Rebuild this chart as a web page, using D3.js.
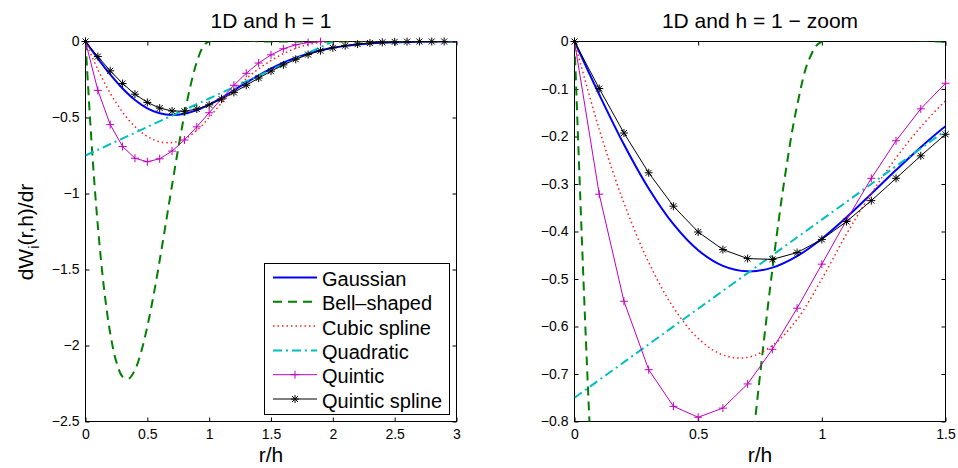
<!DOCTYPE html>
<html>
<head>
<meta charset="utf-8">
<title>1D kernel derivatives</title>
<script src="https://cdn.jsdelivr.net/npm/d3@7"></script>
<style>
  body { margin: 0; background: #fff; }
  svg { display: block; font-family: "Liberation Sans", Arial, sans-serif; }
  .axis text { font-size: 14px; fill: #000; }
  .axis line { stroke: #000; }
  .axis path { display: none; }
</style>
</head>
<body>
<script>
// dW/dr, as [r/h, value] pairs
var gaussian = [[0,0],[0.1,-0.1117],[0.2,-0.2168],[0.3,-0.3094],[0.4,-0.3846],[0.5,-0.4394],
  [0.6,-0.4724],[0.7,-0.4839],[0.8,-0.4760],[0.9,-0.4518],[1.0,-0.4151],[1.1,-0.3701],
  [1.2,-0.3208],[1.3,-0.2707],[1.4,-0.2225],[1.5,-0.1784],[1.6,-0.1396],[1.7,-0.1066],
  [1.8,-0.0795],[1.9,-0.0580],[2.0,-0.0413],[2.1,-0.0288],[2.2,-0.0196],[2.3,-0.0131],
  [2.4,-0.0085],[2.5,-0.0054],[2.6,-0.0034],[2.7,-0.0021],[2.8,-0.0012],[2.9,-0.0007],[3.0,-0.0004]];
var bellShaped = [[0,0],[0.05,-0.677],[0.1,-1.215],[0.15,-1.626],[0.2,-1.92],[0.25,-2.109],
  [0.3,-2.205],[0.35,-2.218],[0.4,-2.16],[0.45,-2.042],[0.5,-1.875],[0.55,-1.671],[0.6,-1.44],
  [0.65,-1.194],[0.7,-0.945],[0.75,-0.703],[0.8,-0.48],[0.85,-0.287],[0.9,-0.135],[0.95,-0.036],
  [1.0,0],[1.5,0],[2.0,0],[2.5,0],[3.0,0]];
var cubicSpline = [[0,0],[0.1,-0.185],[0.2,-0.34],[0.3,-0.465],[0.4,-0.56],[0.5,-0.625],
  [0.6,-0.66],[0.7,-0.665],[0.8,-0.64],[0.9,-0.585],[1.0,-0.5],[1.1,-0.405],[1.2,-0.32],
  [1.3,-0.245],[1.4,-0.18],[1.5,-0.125],[1.6,-0.08],[1.7,-0.045],[1.8,-0.02],[1.9,-0.005],
  [2.0,0],[3.0,0]];
var quadratic = [[0,-0.75],[0.5,-0.5625],[1.0,-0.375],[1.5,-0.1875],[2.0,0]];
var quintic = [[0,0],[0.1,-0.3215],[0.2,-0.5468],[0.3,-0.6909],[0.4,-0.768],[0.5,-0.791],
  [0.6,-0.7718],[0.7,-0.7209],[0.8,-0.648],[0.9,-0.5615],[1.0,-0.4688],[1.1,-0.3759],
  [1.2,-0.288],[1.3,-0.209],[1.4,-0.1418],[1.5,-0.0879],[1.6,-0.048],[1.7,-0.0215],
  [1.8,-0.0068],[1.9,-0.0009]];
var quinticSpline = [[0,0],[0.1,-0.099],[0.2,-0.1927],[0.3,-0.2764],[0.4,-0.3467],[0.5,-0.401],
  [0.6,-0.438],[0.7,-0.457],[0.8,-0.4587],[0.9,-0.4444],[1.0,-0.4167],[1.1,-0.379],
  [1.2,-0.335],[1.3,-0.288],[1.4,-0.2407],[1.5,-0.1953],[1.6,-0.1537],[1.7,-0.117],
  [1.8,-0.086],[1.9,-0.061],[2.0,-0.0417],[2.1,-0.0273],[2.2,-0.0171],[2.3,-0.01],
  [2.4,-0.0054],[2.5,-0.0026],[2.6,-0.0011],[2.7,-0.0003],[2.8,-0.0001],[2.9,0]];

var legendNames = ["Gaussian", "Bell\u2013shaped", "Cubic spline", "Quadratic", "Quintic", "Quintic spline"];

var leftXTicks = [0, 0.5, 1, 1.5, 2, 2.5, 3];
var leftYTicks = [0, -0.5, -1, -1.5, -2, -2.5];
var rightXTicks = [0, 0.5, 1, 1.5];
var rightYTicks = [0, -0.1, -0.2, -0.3, -0.4, -0.5, -0.6, -0.7, -0.8];

// styles, one per series
var series = [
  {data: gaussian, color: "#0000ff", width: 2, dash: null, curve: d3.curveCatmullRom, marker: null},
  {data: bellShaped, color: "#008000", width: 2, dash: "9,6", curve: d3.curveCatmullRom, marker: null},
  {data: cubicSpline, color: "#ff2020", width: 1.5, dash: "1.5,3", curve: d3.curveCatmullRom, marker: null},
  {data: quadratic, color: "#00bfbf", width: 2, dash: "9,4,2,4", curve: d3.curveLinear, marker: null},
  {data: quintic, color: "#bf00bf", width: 1, dash: null, curve: d3.curveLinear, marker: "plus"},
  {data: quinticSpline, color: "#000000", width: 1, dash: null, curve: d3.curveLinear, marker: "star"}
];

var svg = d3.select("body").append("svg")
  .attr("width", 958)
  .attr("height", 468);

var fmt = d3.format("~g");

function markerPath(type, s) {
  var p = "M0," + (-s) + "V" + s + "M" + (-s) + ",0H" + s;
  if (type == "star") {
    var d = s * 0.75;
    p += "M" + (-d) + "," + (-d) + "L" + d + "," + d + "M" + (-d) + "," + d + "L" + d + "," + (-d);
  }
  return p;
}

function drawPanel(opt) {
  var x = d3.scaleLinear().domain([0, opt.xMax]).range([opt.x0, opt.x1]);
  var y = d3.scaleLinear().domain([opt.yMin, 0]).range([opt.y1, opt.y0]);
  var g = svg.append("g");

  g.append("clipPath").attr("id", opt.id)
    .append("rect")
    .attr("x", opt.x0).attr("y", opt.y0)
    .attr("width", opt.x1 - opt.x0).attr("height", opt.y1 - opt.y0);

  // box and ticks (inward, all four sides)
  g.append("g").attr("class", "axis")
    .attr("transform", "translate(0," + opt.y1 + ")")
    .call(d3.axisBottom(x).tickValues(opt.xTicks).tickSizeInner(-4).tickSizeOuter(0).tickPadding(8).tickFormat(fmt));
  g.append("g").attr("class", "axis")
    .attr("transform", "translate(0," + opt.y0 + ")")
    .call(d3.axisTop(x).tickValues(opt.xTicks).tickSizeInner(-4).tickSizeOuter(0).tickFormat(""));
  g.append("g").attr("class", "axis")
    .attr("transform", "translate(" + opt.x0 + ",0)")
    .call(d3.axisLeft(y).tickValues(opt.yTicks).tickSizeInner(-4).tickSizeOuter(0).tickPadding(6).tickFormat(fmt));
  g.append("g").attr("class", "axis")
    .attr("transform", "translate(" + opt.x1 + ",0)")
    .call(d3.axisRight(y).tickValues(opt.yTicks).tickSizeInner(-4).tickSizeOuter(0).tickFormat(""));
  g.append("rect")
    .attr("x", opt.x0).attr("y", opt.y0)
    .attr("width", opt.x1 - opt.x0).attr("height", opt.y1 - opt.y0)
    .attr("fill", "none").attr("stroke", "#000").attr("stroke-width", 1);

  var lines = g.append("g").attr("clip-path", "url(#" + opt.id + ")");
  series.forEach(function(s) {
    var line = d3.line()
      .x(function(d) { return x(d[0]); })
      .y(function(d) { return y(d[1]); })
      .curve(s.curve);
    lines.append("path")
      .attr("d", line(s.data))
      .attr("fill", "none")
      .attr("stroke", s.color)
      .attr("stroke-width", s.width)
      .attr("stroke-dasharray", s.dash);
    if (s.marker) {
      g.selectAll(null)
        .data(s.data.filter(function(d) { return d[0] <= opt.xMax && d[1] >= opt.yMin; }))
        .enter().append("path")
        .attr("transform", function(d) { return "translate(" + x(d[0]) + "," + y(d[1]) + ")"; })
        .attr("d", markerPath(s.marker, 4))
        .attr("fill", "none")
        .attr("stroke", s.color)
        .attr("stroke-width", 1);
    }
  });

  svg.append("text")
    .attr("x", (opt.x0 + opt.x1) / 2).attr("y", 28)
    .attr("text-anchor", "middle")
    .style("font-size", "21px")
    .text(opt.title);
  svg.append("text")
    .attr("x", (opt.x0 + opt.x1) / 2).attr("y", 462)
    .attr("text-anchor", "middle")
    .style("font-size", "21px")
    .text("r/h");
}

drawPanel({id: "clipL", x0: 85.5, x1: 456.5, y0: 41.5, y1: 421.5, xMax: 3, yMin: -2.5,
  xTicks: leftXTicks, yTicks: leftYTicks, title: "1D and h = 1"});
drawPanel({id: "clipR", x0: 574.5, x1: 945.5, y0: 41.5, y1: 421.5, xMax: 1.5, yMin: -0.8,
  xTicks: rightXTicks, yTicks: rightYTicks, title: "1D and h = 1 \u2212 zoom"});

// y label with subscript i
var ylab = svg.append("text")
  .attr("transform", "translate(33,232) rotate(-90)")
  .attr("text-anchor", "middle")
  .style("font-size", "21px");
ylab.append("tspan").text("dW");
ylab.append("tspan").attr("dy", 6).style("font-size", "15px").text("i");
ylab.append("tspan").attr("dy", -6).text("(r,h)/dr");

// legend
var legend = svg.append("g");
legend.append("rect")
  .attr("x", 264.5).attr("y", 263.5).attr("width", 185).attr("height", 151)
  .attr("fill", "#fff").attr("stroke", "#000").attr("stroke-width", 1);
series.forEach(function(s, i) {
  var by = 286 + i * 24.3;
  var ly = by - 8.5;
  legend.append("line")
    .attr("x1", 273).attr("x2", 317).attr("y1", ly).attr("y2", ly)
    .attr("stroke", s.color).attr("stroke-width", s.width)
    .attr("stroke-dasharray", s.dash);
  if (s.marker) {
    legend.append("path")
      .attr("transform", "translate(295," + ly + ")")
      .attr("d", markerPath(s.marker, 4))
      .attr("fill", "none").attr("stroke", s.color).attr("stroke-width", 1);
  }
  legend.append("text")
    .attr("x", 322).attr("y", by)
    .style("font-size", "20px")
    .text(legendNames[i]);
});
</script>
</body>
</html>
